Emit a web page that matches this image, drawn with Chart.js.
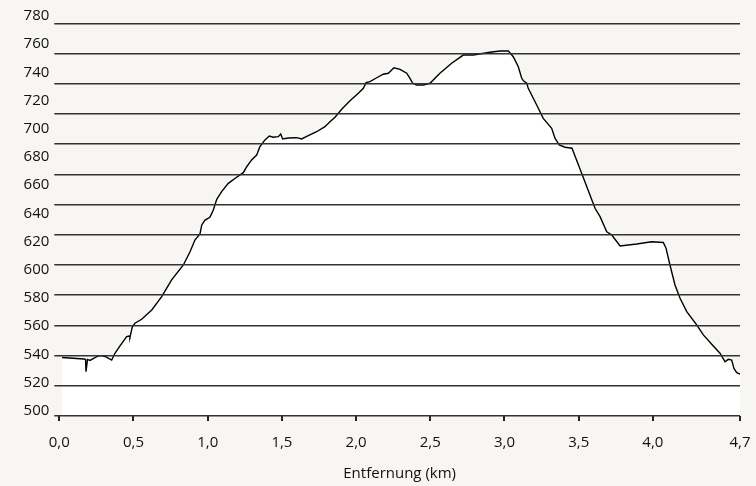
<!DOCTYPE html>
<html><head><meta charset="utf-8">
<script src="https://cdn.jsdelivr.net/npm/chart.js@4.4.1/dist/chart.umd.min.js"></script>
<style>
html,body{margin:0;padding:0;background:#f7f6f2;}
canvas{display:block;}
</style>
</head><body>
<canvas id="c" width="756" height="486"></canvas>
<script>
const distanceKm = [0.018,0.166,0.177,0.180,0.190,0.207,0.261,0.281,0.308,0.353,0.375,0.409,0.454,0.470,0.476,0.492,0.510,0.555,0.623,0.690,0.757,0.836,0.881,0.914,0.948,0.960,0.982,1.015,1.038,1.061,1.094,1.139,1.195,1.240,1.263,1.296,1.330,1.352,1.386,1.415,1.442,1.476,1.492,1.505,1.543,1.600,1.633,1.678,1.734,1.790,1.824,1.858,1.903,1.959,2.015,2.049,2.067,2.094,2.139,2.183,2.217,2.228,2.255,2.296,2.341,2.363,2.381,2.408,2.453,2.498,2.565,2.644,2.722,2.790,2.902,2.970,3.026,3.059,3.093,3.116,3.127,3.150,3.160,3.217,3.261,3.318,3.340,3.369,3.408,3.455,3.475,3.520,3.563,3.610,3.644,3.689,3.723,3.779,3.891,3.992,4.070,4.088,4.115,4.149,4.183,4.228,4.295,4.340,4.407,4.452,4.486,4.508,4.531,4.546,4.565,4.587];
const elevationM = [537.8,536.7,536.4,527.7,536.4,535.7,538.9,539.1,538.5,536.0,540.8,546.0,552.6,553.0,552.1,559.6,562.1,564.9,571.5,580.9,592.8,603.4,612.8,621.1,625.4,631.8,635.3,637.2,642.4,650.0,655.4,661.3,665.6,668.9,673.1,677.9,681.4,687.3,692.1,694.9,694.0,694.4,696.3,692.8,693.5,693.7,692.8,695.1,697.9,701.5,705.0,708.2,713.8,719.9,725.2,728.7,732.7,733.4,736.2,738.7,739.4,740.5,743.3,742.2,739.4,735.8,732.3,731.1,731.1,732.3,739.4,746.5,752.3,752.3,754.3,755.2,755.2,751.1,744.0,735.8,734.1,732.3,728.7,716.9,707.4,700.4,693.3,688.5,686.9,686.2,680.7,668.4,656.6,643.6,637.7,627.0,624.7,616.9,618.3,619.9,619.4,615.5,603.4,589.2,579.8,570.3,560.9,553.8,546.0,540.8,534.8,536.5,536.0,530.1,527.0,526.1];
const yTickValues = [500,520,540,560,580,600,620,640,660,680,700,720,740,760,780];
const xTickValues = [0,0.5,1.0,1.5,2.0,2.5,3.0,3.5,4.0,4.587];
const xTickLabels = ['0,0','0,5','1,0','1,5','2,0','2,5','3,0','3,5','4,0','4,7'];
const gridLineValues = [0,1,2,3,4,5,6,7,8,9,10,11,12,13];
const xTitle = 'Entfernung (km)';

const BG = '#f7f6f2';
const points = distanceKm.map((d, i) => ({x: d, y: elevationM[i]}));
const FONT = '"Open Sans", "DejaVu Sans", sans-serif';

const backgroundAndEdge = {
  id: 'backgroundAndEdge',
  beforeDraw(c) {
    const ctx = c.ctx;
    ctx.save();
    ctx.fillStyle = BG;
    ctx.fillRect(0, 0, c.width, c.height);
    ctx.restore();
  },
  afterDraw(c) {
    const a = c.chartArea;
    const ctx = c.ctx;
    const from = Math.ceil(a.right) + 1;
    if (c.width > from) {
      ctx.save();
      ctx.fillStyle = BG;
      ctx.fillRect(from, 0, c.width - from, Math.floor(a.bottom) + 1);
      ctx.restore();
    }
  }
};

const chart = new Chart(document.getElementById('c'), {
  type: 'line',
  data: {
    datasets: [{
      data: points,
      borderColor: '#000',
      borderWidth: 1.4,
      backgroundColor: '#ffffff',
      fill: 'start',
      pointRadius: 0,
      tension: 0,
      xAxisID: 'x',
      yAxisID: 'y'
    }]
  },
  plugins: [backgroundAndEdge],
  options: {
    responsive: false,
    animation: false,
    devicePixelRatio: 1,
    layout: {padding: {top: 16, right: 16, left: 0, bottom: 0}},
    plugins: {legend: {display: false}, tooltip: {enabled: false}},
    scales: {
      x: {
        type: 'linear',
        position: 'bottom',
        min: 0,
        max: xTickValues[xTickValues.length - 1],
        afterBuildTicks: s => { s.ticks = xTickValues.map(v => ({value: v})); },
        afterFit: s => { s.height = 70; s.paddingLeft = 0; s.paddingRight = 0; },
        grid: {drawOnChartArea: false, drawTicks: true, tickLength: 5, lineWidth: 2, color: '#222'},
        border: {display: false},
        ticks: {
          padding: 13,
          maxRotation: 0,
          autoSkip: false,
          color: '#111',
          font: {family: FONT, size: 15},
          callback: (v, i) => xTickLabels[i]
        },
        title: {display: true, text: xTitle, color: '#111', font: {family: FONT, size: 15}, padding: {top: 9, bottom: 3}}
      },
      y: {
        type: 'linear',
        position: 'left',
        weight: 1,
        min: 496.3,
        max: 780,
        afterBuildTicks: s => { s.ticks = yTickValues.map(v => ({value: v})); },
        afterFit: s => { s.width = 52.3; },
        grid: {display: false, drawTicks: false},
        border: {display: false},
        ticks: {padding: 3, color: '#111', font: {family: FONT, size: 15}, callback: v => String(v)}
      },
      y2: {
        type: 'linear',
        position: 'left',
        weight: 0,
        min: 0,
        max: 13.24,
        afterBuildTicks: s => { s.ticks = gridLineValues.map(v => ({value: v})); },
        afterFit: s => { s.width = 7; },
        grid: {z: 1, color: '#333', lineWidth: 1.5, drawTicks: true, tickLength: 5},
        border: {display: false},
        ticks: {display: false}
      }
    }
  }
});
setTimeout(() => { chart.update('none'); document.body.setAttribute('data-ready', '1'); }, 400);
</script>
</body></html>
